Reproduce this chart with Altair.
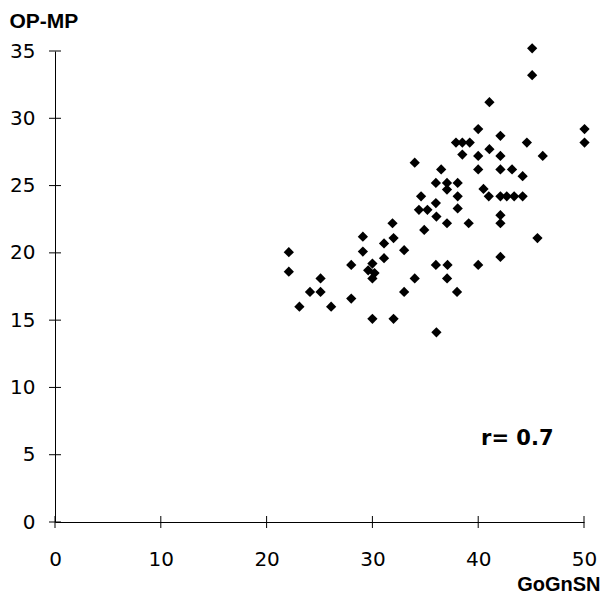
import altair as alt
import pandas as pd

gogn = [22.1, 22.1, 23.1, 24.1, 25.1, 25.1, 26.1, 28.0, 28.0, 29.1,
        29.1, 30.0, 29.6, 30.2, 30.0, 30.0, 31.1, 31.1, 32.0, 32.0,
        33.0, 33.0, 34.0, 31.9, 34.0, 34.6, 34.4, 35.2, 34.9, 36.0,
        36.5, 36.0, 36.05, 36.0, 36.05, 37.05, 37.05, 37.05, 37.1, 37.06,
        38.06, 38.06, 38.06, 38.0, 37.9, 38.5, 39.2, 38.5, 39.1, 40.0,
        40.0, 40.0, 40.5, 41.0, 40.0, 41.06, 41.06, 42.1, 42.1, 42.1,
        42.1, 42.7, 43.4, 44.2, 42.1, 42.1, 42.1, 43.2, 44.2, 44.6,
        45.1, 45.1, 45.6, 46.1, 50.05, 50.05]
opmp = [20.05, 18.6, 16.0, 17.1, 17.1, 18.1, 16.0, 16.6, 19.1, 21.2,
        20.1, 19.2, 18.7, 18.5, 18.1, 15.1, 20.7, 19.6, 21.1, 15.1,
        20.2, 17.1, 18.1, 22.2, 26.7, 24.2, 23.2, 23.2, 21.7, 25.2,
        26.2, 23.7, 22.7, 19.1, 14.1, 25.2, 24.7, 22.2, 19.1, 18.1,
        25.2, 24.2, 23.3, 17.1, 28.2, 28.2, 28.2, 27.3, 22.2, 29.2,
        27.2, 26.2, 24.75, 24.2, 19.1, 31.2, 27.7, 28.7, 27.2, 26.2,
        24.2, 24.2, 24.2, 24.2, 22.8, 22.2, 19.7, 26.2, 25.7, 28.2,
        35.2, 33.2, 21.1, 27.2, 29.2, 28.2]

x_ticks = [0, 10, 20, 30, 40, 50]
y_ticks = [0, 5, 10, 15, 20, 25, 30, 35]
annotation = "r= 0.7"

pts = pd.DataFrame({"GoGnSN": gogn, "OPMP": opmp})
xt = pd.DataFrame({"GoGnSN": x_ticks})
yt = pd.DataFrame({"OPMP": y_ticks})

xscale = alt.Scale(domain=[0, 50], nice=False, zero=True)
yscale = alt.Scale(domain=[0, 35], nice=False, zero=True)

label_font = "DejaVu Sans"
title_font = "Liberation Sans"

xaxis = alt.Axis(values=x_ticks, format="d", grid=False, ticks=False,
                 domainColor="black", domainWidth=1,
                 labelFont=label_font, labelFontSize=20, labelColor="black",
                 labelPadding=27, labelFlush=False,
                 title="GoGnSN", titleFont=title_font, titleFontSize=20,
                 titleFontWeight="bold", titleColor="black",
                 titleAlign="right", titleBaseline="alphabetic",
                 titleAnchor="start", titleX=545, titleY=68)
yaxis = alt.Axis(values=y_ticks, format="d", grid=False, ticks=False,
                 domainColor="black", domainWidth=1,
                 labelFont=label_font, labelFontSize=20, labelColor="black",
                 labelPadding=20, labelFlush=False,
                 title="OP-MP", titleFont=title_font, titleFontSize=21,
                 titleFontWeight="bold", titleColor="black",
                 titleAngle=0, titleAlign="left", titleBaseline="alphabetic",
                 titleAnchor="start", titleX=-46, titleY=-24)

points = alt.Chart(pts).mark_point(
    shape="diamond", filled=True, size=105, color="black", opacity=1
).encode(
    x=alt.X("GoGnSN:Q", scale=xscale, axis=xaxis),
    y=alt.Y("OPMP:Q", scale=yscale, axis=yaxis),
)

xticks_layer = alt.Chart(xt).mark_tick(
    orient="vertical", size=12, thickness=1, color="black", opacity=1
).encode(
    x=alt.X("GoGnSN:Q", scale=xscale, axis=xaxis),
    y=alt.YDatum(0, scale=yscale, axis=yaxis),
)

yticks_layer = alt.Chart(yt).mark_tick(
    orient="horizontal", size=12, thickness=1, color="black", opacity=1
).encode(
    y=alt.Y("OPMP:Q", scale=yscale, axis=yaxis),
    x=alt.XDatum(0, scale=xscale, axis=xaxis),
)

text_layer = alt.Chart(pd.DataFrame({"label": [annotation]})).mark_text(
    font=label_font, fontSize=21, fontWeight="bold", color="black",
    align="center", baseline="middle"
).encode(
    x=alt.XDatum(43.7, scale=xscale, axis=xaxis),
    y=alt.YDatum(6.2, scale=yscale, axis=yaxis),
    text="label:N",
)

chart = alt.layer(points, xticks_layer, yticks_layer, text_layer).properties(
    width=529, height=471,
    autosize=alt.AutoSizeParams(type="none"),
    padding={"left": 47, "top": 43, "right": 16, "bottom": 72},
    background="white",
).configure_view(stroke=None)

chart.save("out.html", embed_options={"renderer": "svg", "actions": False})
